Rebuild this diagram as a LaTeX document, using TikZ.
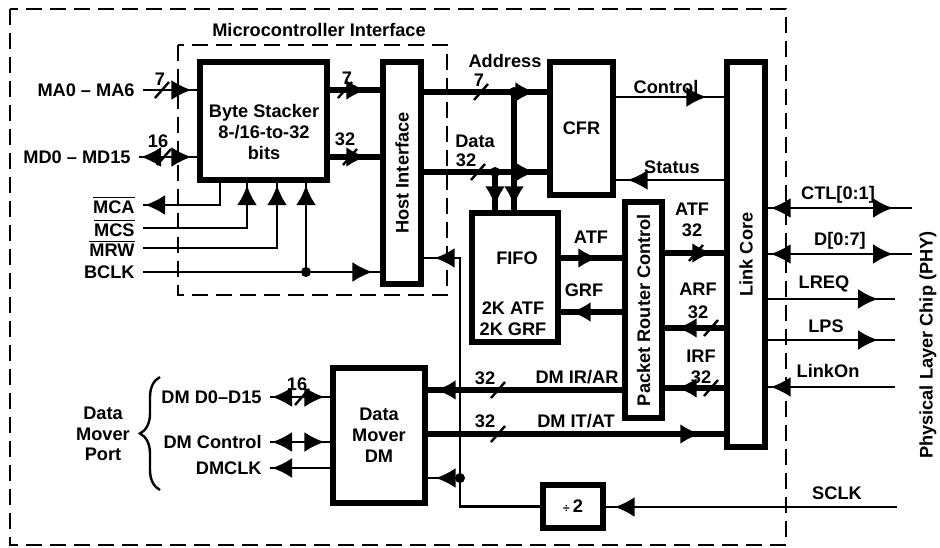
\documentclass[tikz,border=0pt]{standalone}
\usepackage{fontspec}
\setmainfont{Liberation Sans}
\usepackage{graphicx}
\usetikzlibrary{arrows.meta,decorations.markings,decorations.pathreplacing}

% bus width mark: a short slash across a line
\newcommand{\busmark}[2]{\draw[sig] (#1-7,#2+8) -- (#1+7,#2-8);}

\begin{document}
\begin{tikzpicture}[x=0.5pt, y=-0.5pt, >={Latex[length=10pt,width=10pt]},
    font=\fontsize{9.1}{10.4}\selectfont\bfseries,
    box/.style={draw, line width=2.6pt, inner sep=0pt, align=center},
    frame/.style={draw, line width=1.4pt, dash pattern=on 8pt off 4pt},
    sig/.style={line width=1.2pt},
    bus/.style={line width=3.2pt},
    lbl/.style={inner sep=0pt, align=center},
    pin/.style={inner sep=4pt, anchor=east},
    dot/.style={circle, fill, inner sep=0pt, minimum size=5pt},
    headend/.style={postaction={decorate, decoration={markings, mark=at position -#1 with {\arrow{>}}}}},
    headstart/.style={postaction={decorate, decoration={markings, mark=at position #1 with {\arrowreversed{>}}}}}]

    \useasboundingbox (0,0) rectangle (940,547);

    % FRAMES
    \draw[frame] (10,9) rectangle (786,545);
    \draw[frame] (178,45) rectangle (447,295);
    \node[lbl] (mcutitle) at (319,30) {Microcontroller Interface};

    % BLOCKS
    \node[box, minimum width=63.5pt, minimum height=59pt] (stacker) at (263.5,121) {};
    \node[lbl] (stackertxt) at (264,132) {Byte Stacker\\8-/16-to-32\\bits};
    \node[box, minimum width=19pt, minimum height=111pt] (hostif) at (402,173) {\rotatebox{90}{Host Interface}};
    \node[box, minimum width=31.5pt, minimum height=66.5pt] (cfr) at (581.5,128.5) {CFR};
    \node[box, minimum width=19pt, minimum height=192.5pt] (linkcore) at (746,254.5) {\rotatebox{90}{Link Core}};
    \node[box, minimum width=43pt, minimum height=64.5pt] (fifo) at (515,277.5) {};
    \node[lbl] (fifotxt) at (517,258) {FIFO};
    \node[lbl] (fifosize) at (513,319) {2K ATF\\2K GRF};
    \node[box, minimum width=18.5pt, minimum height=108pt] (router) at (643.5,310) {\rotatebox{90}{Packet Router Control}};
    \node[box, minimum width=46pt, minimum height=67.5pt] (dm) at (379,435.5) {Data\\Mover\\DM};
    \node[box, minimum width=30pt, minimum height=21.5pt] (divider) at (573,506.5) {{\fontsize{6}{6}\selectfont ÷}\,2};

    % MICROCONTROLLER PINS
    \node[pin] (ma) at (143,90) {MA0 – MA6};
    \node[pin] (md) at (139,157) {MD0 – MD15};
    \node[pin] (mca) at (143,205) {$\overline{\mbox{MCA}}$};
    \node[pin] (mcs) at (143,228) {$\overline{\mbox{MCS}}$};
    \node[pin] (mrw) at (143,248) {$\overline{\mbox{MRW}}$};
    \node[pin] (bclk) at (143,272) {BCLK};
    \coordinate (clkjoin) at (306,272);

    \draw[sig, headend=3pt] (ma.east) -- (stacker.west |- ma);
    \busmark{162}{90} \node[lbl] at (160,79) {7};
    \draw[sig, headstart=1pt, headend=3pt] (md.east) -- (stacker.west |- md);
    \busmark{164}{157} \node[lbl] at (158,141) {16};
    \draw[sig, headend=1pt] ([xshift=-21.75pt]stacker.south) |- (mca.east);
    \draw[sig, headend=1.3pt] (mcs.east) -| ([xshift=-8.25pt]stacker.south);
    \draw[sig, headend=1.3pt] (mrw.east) -| ([xshift=6.75pt]stacker.south);
    \draw[sig, headend=4pt] (bclk.east) -- (hostif.west |- bclk);
    \draw[sig, headend=1.3pt] (clkjoin) -- (stacker.south -| clkjoin);
    \node[dot] at (clkjoin) {};

    % stacker to host interface
    \draw[bus, headend=7pt] (stacker.east |- ma) -- (hostif.west |- ma);
    \busmark{345}{90} \node[lbl] at (347,78) {7};
    \draw[bus, headend=7pt] (stacker.east |- md) -- (hostif.west |- md);
    \busmark{350}{157} \node[lbl] at (345,139) {32};

    % ADDRESS / DATA
    \coordinate (adrjoin) at (514,92);
    \coordinate (datjoin) at (495,172);
    \draw[bus, headend=6pt] (hostif.east |- adrjoin) -- (cfr.west |- adrjoin);
    \busmark{481}{92} \node[lbl] at (479,80) {7};
    \node[lbl] at (505,61) {Address};
    \draw[bus, headend=6pt] (hostif.east |- datjoin) -- (cfr.west |- datjoin);
    \busmark{478}{172} \node[lbl] at (475,141) {Data};
    \node[lbl] at (466,160) {32};
    \draw[bus, headend=2pt] (adrjoin) -- (fifo.north -| adrjoin);
    \draw[bus, headend=2pt] (datjoin) -- (fifo.north -| datjoin);
    \node[dot] at (adrjoin) {};
    \node[dot] at (datjoin) {};

    % CFR and link core
    \draw[sig, headend=9pt] (cfr.east |- 0,97) -- (linkcore.west |- 0,97);
    \node[lbl] at (666,87) {Control};
    \draw[sig, headend=6pt] (linkcore.west |- 0,180) -- (cfr.east |- 0,180);
    \node[lbl] at (672,167) {Status};

    % FIFO and router
    \draw[bus, headend=12pt] (fifo.east |- 0,258) -- (router.west |- 0,258);
    \node[lbl] at (591,237) {ATF};
    \draw[bus, headend=5pt] (router.west |- 0,312) -- (fifo.east |- 0,312);
    \node[lbl] at (584,290) {GRF};

    % router and link core
    \draw[bus, headend=6pt] (router.east |- 0,253) -- (linkcore.west |- 0,253);
    \busmark{696}{253} \node[lbl] at (692,220) {ATF\\32};
    \draw[bus, headend=6pt] (linkcore.west |- 0,328) -- (router.east |- 0,328);
    \busmark{711}{328} \node[lbl] at (698,301) {ARF\\[1pt]32};
    \draw[bus, headend=6pt] (linkcore.west |- 0,388) -- (router.east |- 0,388);
    \busmark{711}{388} \node[lbl] at (701,367) {IRF\\32};

    % data mover buses
    \draw[bus, headend=4pt] (router.west |- 0,390) -- (dm.east |- 0,390);
    \busmark{498}{390} \node[lbl] at (485,378) {32};
    \node[lbl] at (577,377) {DM IR/AR};
    \draw[bus, headend=12pt] (dm.east |- 0,434) -- (linkcore.west |- 0,434);
    \busmark{498}{434} \node[lbl] at (485,421) {32};
    \node[lbl] at (576,421) {DM IT/AT};

    % PHY SIDE
    \coordinate (ctlpin) at (912,208);
    \coordinate (dpin) at (912,254);
    \coordinate (lreqpin) at (895,299);
    \coordinate (lpspin) at (895,340);
    \coordinate (linkonpin) at (895,387);
    \coordinate (sclkpin) at (897,507);
    \draw[sig, headstart=1.5pt, headend=9.5pt] (linkcore.east |- ctlpin) -- (ctlpin);
    \node[lbl] at (838,195) {CTL[0:1]};
    \draw[sig, headstart=1.5pt, headend=9.5pt] (linkcore.east |- dpin) -- (dpin);
    \node[lbl] at (840,241) {D[0:7]};
    \draw[sig, headend=8.5pt] (linkcore.east |- lreqpin) -- (lreqpin);
    \node[lbl] at (824,284) {LREQ};
    \draw[sig, headend=8.5pt] (linkcore.east |- lpspin) -- (lpspin);
    \node[lbl] at (826,326) {LPS};
    \draw[sig, headend=1.5pt] (linkonpin) -- (linkcore.east |- linkonpin);
    \node[lbl] at (828,371) {LinkOn};
    \draw[sig, headend=4.5pt] (sclkpin) -- (divider.east |- sclkpin);
    \node[lbl] at (837,493) {SCLK};
    \node[lbl, rotate=90] (phy) at (928,345) {Physical Layer Chip (PHY)};

    % clock tree
    \coordinate (sclkjoin) at (460,478);
    \draw[sig, headend=5.5pt] (divider.west) -| (sclkjoin) |- (hostif.east |- 0,258);
    \draw[sig, headend=4pt] (sclkjoin) -- (dm.east |- sclkjoin);
    \node[dot] at (sclkjoin) {};

    % DATA MOVER PORT
    \node[pin] (dmd) at (270,397) {DM D0–D15};
    \node[pin] (dmctl) at (270,442) {DM Control};
    \node[pin] (dmclk) at (270,468) {DMCLK};
    \draw[sig, headstart=1pt, headend=3pt] (dmd.east) -- (dm.west |- dmd);
    \busmark{302}{397} \node[lbl] at (297,384) {16};
    \draw[sig, headstart=1pt, headend=3pt] (dmctl.east) -- (dm.west |- dmctl);
    \draw[sig, headend=1pt] (dm.west |- dmclk) -- (dmclk.east);
    \draw[sig, decorate, decoration={brace, amplitude=10pt}] (160,490) -- (160,377);
    \node[lbl] (dmport) at (103,434) {Data\\Mover\\Port};
\end{tikzpicture}
\end{document}
